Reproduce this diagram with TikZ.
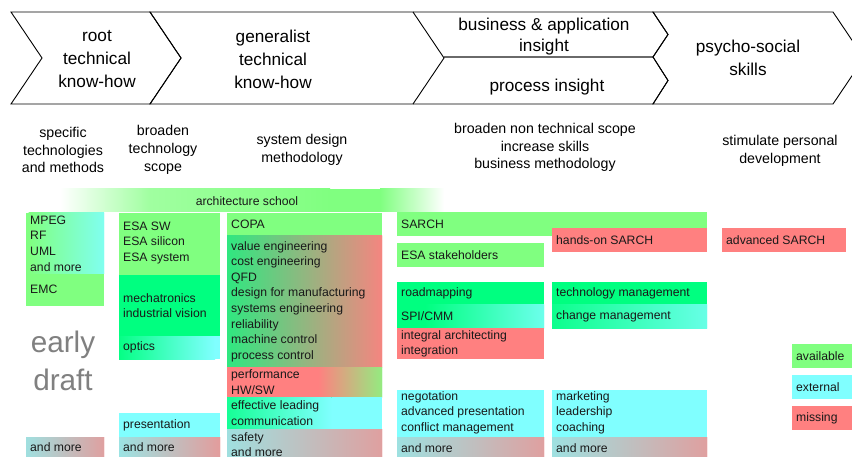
\documentclass[tikz,border=0pt]{standalone}
\usepackage{fontspec}
\setmainfont{Liberation Sans}
\definecolor{avail}{HTML}{80FF80}
\definecolor{extern}{HTML}{80FFFF}
\definecolor{miss}{HTML}{FF8080}
\definecolor{spring}{HTML}{00FF80}
\definecolor{paleg}{HTML}{A0FFA0}
\definecolor{draftgray}{HTML}{808080}
\newcommand{\grect}[8]{%
  \begin{scope}
  \clip (#1,#2) rectangle (#3,#4);
  \fill[#5] (#1,#2) rectangle (#3,#4);
  \shade[left color=#5, right color=#6] ({#7-(#8-#7)/2},#2) rectangle ({#8+(#8-#7)/2},#4);
  \fill[#6] ({#8+(#8-#7)/2},#2) rectangle (#3,#4);
  \end{scope}
}
\tikzset{
  chev/.style={draw=black, line width=0.9pt, line join=miter},
  head/.style={align=center, font=\fontsize{17.2}{23}\selectfont, inner sep=0pt},
  sub/.style={align=center, font=\fontsize{14.2}{17.8}\selectfont, inner sep=0pt},
  lbl/.style={anchor=west, align=left, inner sep=0pt, text=black!90, font=\fontsize{12.2}{15.6}\selectfont},
}
\begin{document}
\begin{tikzpicture}[x=1pt,y=-1pt]
\clip (0,0) rectangle (852,457);
\fill[white] (0,0) rectangle (852,457);

% chevrons
\draw[chev] (11,12) -- (150,12) -- (181,58) -- (150,104) -- (11,104) -- (42,58) -- cycle;
\draw[chev] (150,12) -- (413,12) -- (444,58) -- (413,104) -- (150,104) -- (181,58) -- cycle;
\draw[chev] (413,12) -- (653,12) -- (668,34.5) -- (653,57) -- (444,57);
\draw[chev] (444,57) -- (653,57) -- (668,80.5) -- (653,104) -- (413,104);
\draw[chev] (653,12) -- (833,12) -- (864,58) -- (833,104) -- (653,104) -- (668,80.5) -- (653,57) -- (668,34.5) -- cycle;

\node[head] (h1) at (97,59) {root\\technical\\know-how};
\node[head] (h2) at (273,59) {generalist\\technical\\know-how};
\node[head, font=\fontsize{17.2}{21}\selectfont] (h3) at (544,37) {business \& application\\insight};
\node[head] (h4) at (547,87) {process insight};
\node[head] (h5) at (748,58) {psycho-social\\skills};

% sub headings
\node[sub] (s1) at (63,150) {specific\\technologies\\and methods};
\node[sub] (s2) at (163,150) {broaden\\technology\\scope};
\node[sub] (s3) at (302,150) {system design\\methodology};
\node[sub] (s4) at (545,147.5) {broaden non technical scope\\increase skills\\business methodology};
\node[sub] (s5) at (780,150.5) {stimulate personal\\development};

% architecture school bar
\shade[left color=white, right color=paleg] (60,189) rectangle (150,212);
\shade[left color=paleg, right color=avail] (150,189) rectangle (330,212);
\fill[avail] (330,189) rectangle (380,212);
\shade[left color=avail, right color=white] (380,189) rectangle (444,212);
\node[lbl, anchor=center] (arch) at (247,201) {architecture school};

% column 1
\grect{26}{213}{104}{274}{avail}{extern}{50}{93}
\node[lbl] (mpeg) at (30,243.5) {MPEG\\RF\\UML\\and more};
\fill[avail] (26,274) rectangle (104,306);
\node[lbl] (emc) at (30,289) {EMC};
\node[align=center, inner sep=0pt, text=draftgray, font=\fontsize{29.7}{38}\selectfont] (draft) at (63,361) {early\\draft};
\grect{26}{437}{104}{460}{extern}{miss}{26}{104}
\node[lbl] (more1) at (30,447.5) {and more};

% column 2
\fill[avail] (119,213) rectangle (220,275);
\node[lbl] (esa) at (123,243) {ESA SW\\ESA silicon\\ESA system};
\fill[spring] (119,275) rectangle (220,336);
\node[lbl] (mech) at (123,305.5) {mechatronics\\industrial vision};
\grect{119}{336}{220}{359}{spring}{extern}{140}{190}
\node[lbl] (optics) at (123,347.5) {optics};
\fill[extern] (119,413) rectangle (220,437);
\node[lbl] (pres) at (123,425) {presentation};
\grect{119}{437}{220}{460}{extern}{miss}{125}{215}
\node[lbl] (more2) at (123,447.5) {and more};

% column 3
\fill[avail] (227,213) rectangle (382,236);
\node[lbl] (copa) at (231,224.5) {COPA};
\grect{227}{236}{382}{367}{spring}{miss}{240}{340}
\node[lbl] (value) at (231,301.5) {value engineering\\cost engineering\\QFD\\design for manufacturing\\systems engineering\\reliability\\machine control\\process control};
\grect{227}{367}{382}{397}{miss}{avail}{337}{375}
\node[lbl] (perf) at (231,382) {performance\\HW/SW};
\grect{227}{397}{382}{429}{spring}{extern}{237}{300}
\node[lbl] (lead) at (231,413) {effective leading\\communication};
\grect{227}{429}{382}{460}{extern}{miss}{227}{382}
\node[lbl] (safety) at (231,444.5) {safety\\and more};

% column 4
\fill[avail] (397,212) rectangle (707,236);
\node[lbl] (sarch) at (401,224) {SARCH};
\fill[miss] (552,228) rectangle (707,252);
\node[lbl] (hands) at (556,240) {hands-on SARCH};
\fill[avail] (397,243) rectangle (544,267);
\node[lbl] (stake) at (401,255) {ESA stakeholders};
\fill[spring] (397,282) rectangle (544,305);
\node[lbl] (road) at (401,293.5) {roadmapping};
\grect{397}{305}{544}{328}{spring}{extern}{460}{530}
\node[lbl] (spi) at (401,316.5) {SPI/CMM};
\fill[miss] (397,328) rectangle (544,359);
\node[lbl] (integ) at (401,344) {integral architecting\\integration};
\fill[spring] (552,282) rectangle (707,305);
\node[lbl] (tech) at (556,293.5) {technology management};
\grect{552}{305}{707}{328}{spring}{extern}{585}{695}
\node[lbl] (change) at (556,316.5) {change management};
\fill[extern] (397,390) rectangle (544,437);
\node[lbl] (nego) at (401,412.5) {negotation\\advanced presentation\\conflict management};
\grect{397}{437}{544}{460}{extern}{miss}{400}{544}
\node[lbl] (more4) at (401,448) {and more};
\fill[extern] (552,390) rectangle (707,437);
\node[lbl] (mark) at (556,412.5) {marketing\\leadership\\coaching};
\grect{552}{437}{707}{460}{extern}{miss}{555}{707}
\node[lbl] (more5) at (556,448) {and more};

% column 5
\fill[miss] (722,228) rectangle (846,252);
\node[lbl] (adv) at (726,240) {advanced SARCH};

% legend
\fill[avail] (792,344) rectangle (856,368);
\node[lbl] (lavail) at (796,356) {available};
\fill[extern] (792,375) rectangle (856,399);
\node[lbl] (lext) at (796,387) {external};
\fill[miss] (792,406) rectangle (856,430);
\node[lbl] (lmiss) at (796,418) {missing};
\end{tikzpicture}
\end{document}
